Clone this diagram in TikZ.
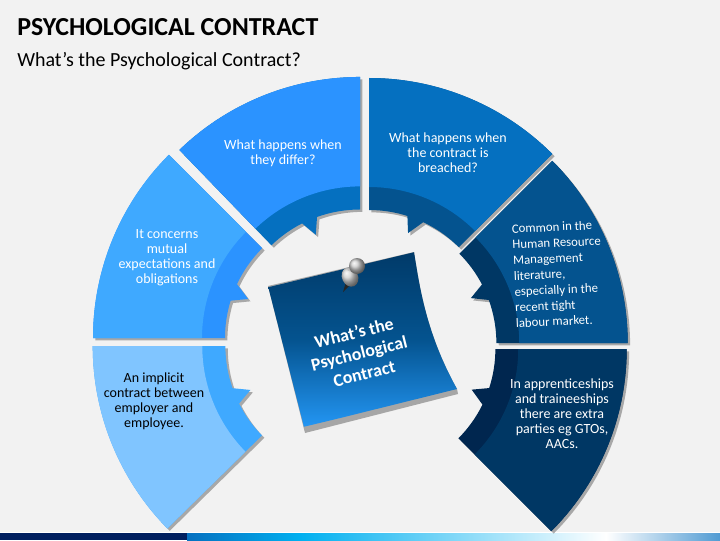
\documentclass[tikz,border=0pt]{standalone}
\usepackage{fontspec}
\setmainfont{Carlito}
\usepackage{tikz}
\usetikzlibrary{shadows}
\definecolor{pagebg}{HTML}{F2F2F2}
\definecolor{ringa}{HTML}{80C5FF}
\definecolor{ringb}{HTML}{3FA9FF}
\definecolor{ringc}{HTML}{2B93FF}
\definecolor{ringd}{HTML}{0570C0}
\definecolor{ringe}{HTML}{04538F}
\definecolor{ringf}{HTML}{003764}
\definecolor{ringg}{HTML}{00264F}
\definecolor{barnavy}{HTML}{001F5F}
\definecolor{barcyan}{HTML}{00B0F0}
\tikzstyle{ringtext}=[inner sep=0pt, align=center, text=white, font=\fontsize{10.5}{11.25}\selectfont]
\tikzstyle{ringshadow}=[drop shadow={shadow xshift=1.8pt, shadow yshift=-1.8pt, fill=black, opacity=0.3}]
\newcommand{\ringouter}{259}
\newcommand{\ringband}{150}
\newcommand{\ringinner}{127}
\newcommand{\ringtip}{111}
\newcommand{\ringpart}[9]{
	\begin{scope}[shift={(#1)}, scale=#9]
		\fill[#8, ringshadow] (#2:\ringouter) arc[start angle=#2, end angle=#3, radius=\ringouter]
			-- (#3:\ringinner) arc[start angle=#3, end angle=#4, radius=\ringinner]
			-- (#5:\ringtip) -- (#6:\ringinner) arc[start angle=#6, end angle=#2, radius=\ringinner] -- cycle;
		\fill[#7] (#2:\ringouter) arc[start angle=#2, end angle=#3, radius=\ringouter]
			-- (#3:\ringband) arc[start angle=#3, end angle=#2, radius=\ringband] -- cycle;
	\end{scope}}

\begin{document}
\begin{tikzpicture}[x=0.75pt, y=0.75pt]
	\useasboundingbox (0,0) rectangle (720,540);
	\fill[pagebg] (0,0) rectangle (720,540);

	\fill[white] (0,6.7) rectangle (720,8.2);
	\fill[barnavy] (0,0) rectangle (187,6.7);
	\shade[left color=ringd, right color=barcyan] (187,0) rectangle (300,6.7);
	\shade[left color=barcyan, right color=white] (300,0) rectangle (606,6.7);
	\shade[left color=white, right color=ringd!70!white] (606,0) rectangle (720,6.7);

	\node[anchor=base west, inner sep=0pt, font=\fontsize{19.45}{22}\selectfont\bfseries] (title) at (17,504) {PSYCHOLOGICAL CONTRACT};
	\node[anchor=base west, inner sep=0pt, font=\fontsize{15}{18}\selectfont] (subtitle) at (17,473) {What’s the Psychological Contract?};

	\coordinate (apexa) at (353,194);
	\coordinate (apexb) at (352,202);
	\coordinate (apexc) at (360,203);
	\coordinate (apexd) at (369,203);
	\coordinate (apexe) at (370,197);
	\coordinate (apexf) at (369,191);

	\ringpart{apexf}{0}{-45}{-26.1}{-21.6}{-18}{ringf}{ringg}{0.995}
	\ringpart{apexe}{45}{0}{19.9}{24}{27.6}{ringe}{ringf}{0.995}
	\ringpart{apexd}{90}{45}{64.7}{69.4}{72.4}{ringd}{ringe}{1}
	\ringpart{apexc}{134}{90}{109.7}{113.4}{117}{ringc}{ringd}{1.004}
	\ringpart{apexb}{180}{135}{154.9}{159.4}{162.9}{ringb}{ringc}{1}
	\ringpart{apexa}{224.5}{180}{199.3}{203.2}{206.8}{ringa}{ringb}{1.005}

	\node[ringtext, text=black] (impl) at (154,139) {An implicit\\contract between\\employer and\\employee.};
	\node[ringtext] (mutual) at (167,282.5) {It concerns\\mutual\\expectations and\\obligations};
	\node[ringtext] (differ) at (283,387) {What happens when\\they differ?};
	\node[ringtext] (breach) at (448,387) {What happens when\\the contract is\\breached?};
	\node[ringtext, align=left, rotate=2.5, font=\fontsize{9.6}{11.8}\selectfont] (hr) at (558,266) {Common in the\\Human Resource\\Management\\literature,\\especially in the\\recent tight\\labour market.};
	\node[ringtext] (appr) at (562,126) {In apprenticeships\\and traineeships\\there are extra\\parties eg GTOs,\\AACs.};

	% note
	\fill[black!35] (305,107) -- (458,146) -- (457,151) .. controls (427,205) and (420,250) .. (414,288) -- (268,254) -- cycle;
	\begin{scope}
		\clip (268,254) -- (414,288) .. controls (420,250) and (427,205) .. (457,151) -- (304,113) -- cycle;
		\shade[top color=ringf, bottom color=ringc!90!cyan, middle color=ringe, rotate around={13.5:(361,201)}] (240,129) rectangle (480,273);
	\end{scope}
	\node[inner sep=0pt, align=center, text=white, rotate=14, font=\fontsize{13.4}{15.7}\selectfont\bfseries] (whats) at (359,187) {What’s the\\Psychological\\Contract};

	% pin
	\fill[black!85] (343,248) -- (346,258) -- (351,256) -- cycle;
	\shade[ball color=black!20, rotate around={-65:(350,263)}] (350,263) ellipse (10 and 8);
	\fill[black!25] (351,268) -- (358,272) -- (354,276) -- (347,270) -- cycle;
	\shade[ball color=black!20] (357,274) circle (8);
\end{tikzpicture}
\end{document}
